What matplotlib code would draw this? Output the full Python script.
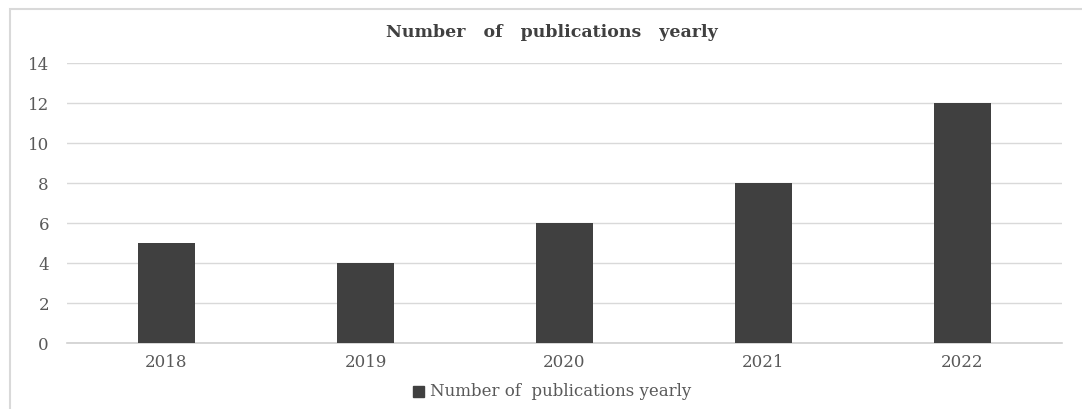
import matplotlib.pyplot as plt
from matplotlib.patches import Rectangle

# data
years = ['2018', '2019', '2020', '2021', '2022']
counts = [5, 4, 6, 8, 12]
y_ticks = [0, 2, 4, 6, 8, 10, 12, 14]
series_name = 'Number of  publications yearly'

W, H = 1082, 409


def main():
    fig = plt.figure(figsize=(W / 100, H / 100), dpi=100)
    ax = fig.add_axes([67 / W, 1 - 343 / H, (1062 - 67) / W, (343 - 63) / H])

    # outer chart frame (left and top edges visible, rest clipped)
    fig.patches.append(Rectangle((10 / W, -0.1), 1.5, 1 - 9 / H + 0.1,
                                 transform=fig.transFigure, fill=False,
                                 edgecolor='#d9d9d9', linewidth=1.5))

    x = range(len(years))
    ax.bar(x, counts, width=0.29, color='#404040', zorder=3,
           label=series_name.replace('  ', ' '))
    ax.set_xlim(-0.5, len(years) - 0.5)
    ax.set_ylim(0, 14)
    ax.set_yticks(y_ticks)
    ax.set_xticks(list(x))
    ax.set_xticklabels(years)
    ax.grid(axis='y', color='#d9d9d9', linewidth=1, zorder=0)
    for s in ['top', 'right', 'left']:
        ax.spines[s].set_visible(False)
    ax.spines['bottom'].set_color('#d0d0d0')
    ax.spines['bottom'].set_linewidth(1.2)
    ax.tick_params(length=0, colors='#595959', labelsize=12)
    ax.tick_params(axis='x', pad=8)
    ax.tick_params(axis='y', pad=13)
    for lab in ax.get_xticklabels() + ax.get_yticklabels():
        lab.set_family('DejaVu Serif')

    fig.text(552 / W, 1 - 37 / H, 'Number   of   publications   yearly',
             ha='center', va='baseline', family='DejaVu Serif',
             weight='bold', size=12.5, color='#404040')

    # legend
    fig.patches.append(Rectangle((413 / W, 1 - 397 / H), 11 / W, 11 / H,
                                 transform=fig.transFigure,
                                 color='#404040'))
    fig.text(430 / W, 1 - 392 / H, series_name, ha='left', va='center',
             family='DejaVu Serif', size=12, color='#595959')

    fig.savefig('out.png', dpi=100, facecolor='white')


if __name__ == "__main__":
    main()
